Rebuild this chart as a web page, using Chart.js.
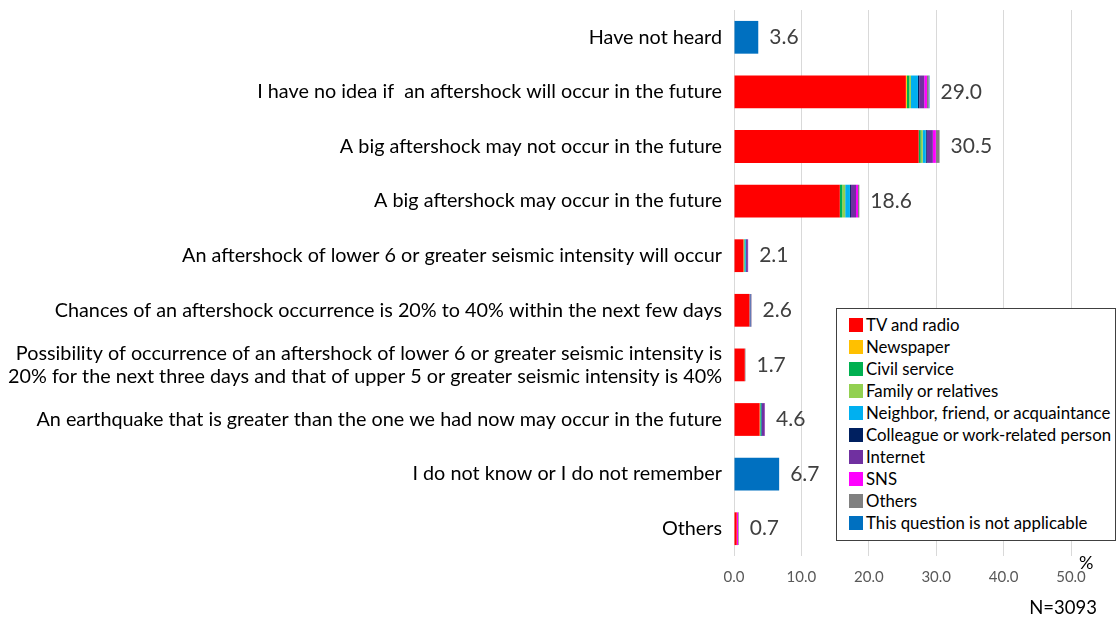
<!DOCTYPE html>
<html>
<head>
<meta charset="utf-8">
<script src="https://cdn.jsdelivr.net/npm/chart.js@4.4.1/dist/chart.umd.min.js"></script>
<style>
  html, body { margin: 0; padding: 0; background: #fff; }
  #wrap { position: relative; width: 1118px; height: 620px; }
  canvas { display: block; }
  #legend {
    position: absolute; left: 836px; top: 308px; width: 280px; height: 233px;
    box-sizing: border-box; border: 1px solid #404040; background: #fff;
    font-family: Lato, "Open Sans", sans-serif; font-size: 16.8px; color: #000;
    padding: 5px 0 0 12px;
  }
  .li { height: 22px; line-height: 22px; white-space: nowrap; display: flex; align-items: center; }
  .sw { width: 14px; height: 14px; margin-right: 3px; flex: none; }
  #pct { position: absolute; left: 1079px; top: 551px; font: 18px Lato, sans-serif; color: #000; }
  #n { position: absolute; right: 21px; top: 596px; font: 18.5px Lato, sans-serif; color: #000; }
</style>
</head>
<body>
<div id="wrap">
  <canvas id="c" width="1118" height="620"></canvas>
  <div id="legend"></div>
  <div id="pct">%</div>
  <div id="n">N=3093</div>
</div>
<script>
const categories = [
  "Have not heard",
  "I have no idea if  an aftershock will occur in the future",
  "A big aftershock may not occur in the future",
  "A big aftershock may occur in the future",
  "An aftershock of lower 6 or greater seismic intensity will occur",
  "Chances of an aftershock occurrence is 20% to 40% within the next few days",
  ["Possibility of occurrence of an aftershock of lower 6 or greater seismic intensity is",
   "20% for the next three days and that of upper 5 or greater seismic intensity is 40%"],
  "An earthquake that is greater than the one we had now may occur in the future",
  "I do not know or I do not remember",
  "Others"
];
const seriesNames = ["TV and radio","Newspaper","Civil service","Family or relatives",
  "Neighbor, friend, or acquaintance","Colleague or work-related person","Internet","SNS","Others",
  "This question is not applicable"];
const seriesColors = ["#FF0000","#FFC000","#00B050","#92D050","#00B0F0","#002060","#7030A0","#FF00FF","#808080","#0070C0"];

const tvRadio      = [0, 25.5, 27.4, 15.7, 1.4, 2.3, 1.6, 3.8, 0, 0.4];
const newspaper    = [0, 0.15, 0.0, 0.0, 0.05, 0.0, 0.0, 0.05, 0, 0.0];
const civilService = [0, 0.35, 0.3, 0.35, 0.1, 0.0, 0.0, 0.1, 0, 0.0];
const family       = [0, 0.25, 0.3, 0.45, 0.05, 0.0, 0.0, 0.05, 0, 0.0];
const neighbor     = [0, 1.04, 0.45, 0.7, 0.15, 0.1, 0.0, 0.05, 0, 0.0];
const colleague    = [0, 0.2, 0.15, 0.15, 0.05, 0.05, 0.0, 0.1, 0, 0.0];
const internet     = [0, 0.74, 0.9, 0.75, 0.25, 0.1, 0.0, 0.4, 0, 0.0];
const sns          = [0, 0.4, 0.45, 0.3, 0.05, 0.0, 0.0, 0.05, 0, 0.2];
const others       = [0, 0.25, 0.55, 0.2, 0.0, 0.05, 0.1, 0.0, 0, 0.1];
const notApplicable= [3.6, 0.12, 0.0, 0.0, 0.0, 0.0, 0.0, 0.0, 6.7, 0.0];
const totals       = [3.6, 29.0, 30.5, 18.6, 2.1, 2.6, 1.7, 4.6, 6.7, 0.7];
const xTicks       = [0, 10, 20, 30, 40, 50];

const seriesData = [tvRadio, newspaper, civilService, family, neighbor, colleague, internet, sns, others, notApplicable];

const FONT = 'Lato, "Open Sans", sans-serif';

// legend
const lg = document.getElementById('legend');
seriesNames.forEach((n, i) => {
  const d = document.createElement('div'); d.className = 'li';
  const s = document.createElement('span'); s.className = 'sw'; s.style.background = seriesColors[i];
  const t = document.createElement('span'); t.textContent = n;
  d.appendChild(s); d.appendChild(t); lg.appendChild(d);
});

const totalLabels = {
  id: 'totalLabels',
  afterDatasetsDraw(chart) {
    const ctx = chart.ctx, xs = chart.scales.x, ys = chart.scales.y;
    ctx.save();
    ctx.font = '21px ' + FONT;
    ctx.fillStyle = '#404040';
    ctx.textAlign = 'left';
    ctx.textBaseline = 'middle';
    totals.forEach((v, i) => {
      const x = xs.getPixelForValue(v) + 11;
      const y = ys.getPixelForValue(i);
      ctx.fillText(v.toFixed(1), x, y);
    });
    ctx.restore();
  }
};

new Chart(document.getElementById('c'), {
  type: 'bar',
  data: {
    labels: categories,
    datasets: seriesNames.map((n, i) => ({
      label: n,
      data: seriesData[i],
      backgroundColor: seriesColors[i],
      borderWidth: 0,
      categoryPercentage: 0.6,
      barPercentage: 1.0
    }))
  },
  options: {
    indexAxis: 'y',
    responsive: false,
    animation: false,
    devicePixelRatio: 1,
    layout: { padding: { top: 10, right: 47, left: 0, bottom: 0 } },
    plugins: { legend: { display: false }, tooltip: { enabled: false } },
    scales: {
      x: {
        stacked: true, min: 0, max: 50,
        afterBuildTicks(s) { s.ticks = xTicks.map(v => ({ value: v })); },
        afterFit(s) { s.height = 64; s.paddingLeft = 0; s.paddingRight = 0; },
        grid: { color: '#d9d9d9', lineWidth: 1, drawTicks: false },
        border: { display: false },
        ticks: { padding: 12, color: '#595959', font: { size: 15, family: FONT },
                 callback: v => Number(v).toFixed(1) }
      },
      y: {
        stacked: true,
        afterFit(s) { s.width = 734; s.paddingTop = 0; s.paddingBottom = 0; },
        grid: { display: false, drawTicks: false },
        border: { display: false },
        ticks: { padding: 12, color: '#000', font: { size: 19.8, family: FONT, lineHeight: 1.15 } }
      }
    }
  },
  plugins: [totalLabels]
});
</script>
</body>
</html>
